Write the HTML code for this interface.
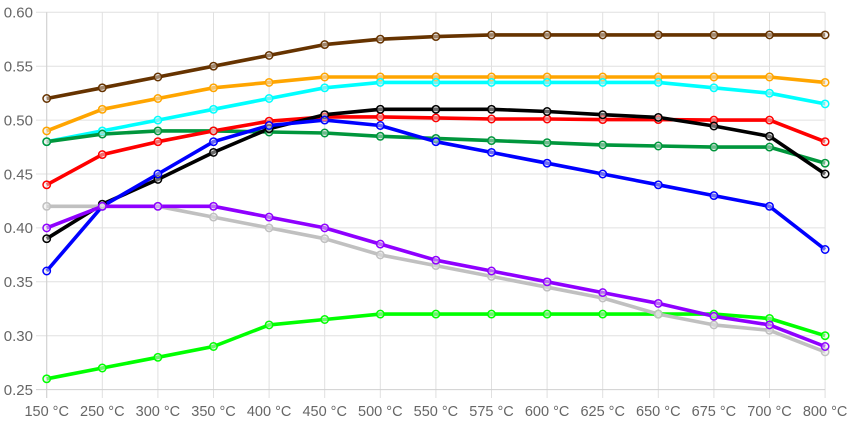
<!DOCTYPE html>
<html>
<head>
<meta charset="utf-8">
<style>
html,body{margin:0;padding:0;background:#fff;}
svg{display:block;}
text{font-family:"Liberation Sans",sans-serif;font-size:14.5px;fill:#666;}
.yl text{font-size:15px;}
</style>
</head>
<body>
<svg width="852" height="425" viewBox="0 0 852 425" xmlns="http://www.w3.org/2000/svg">
<!-- horizontal grid -->
<g stroke="#e0e0e0" stroke-width="1">
<line x1="36" y1="12.3" x2="825.1" y2="12.3"/>
<line x1="36" y1="66.2" x2="825.1" y2="66.2"/>
<line x1="36" y1="120.1" x2="825.1" y2="120.1"/>
<line x1="36" y1="174.0" x2="825.1" y2="174.0"/>
<line x1="36" y1="227.9" x2="825.1" y2="227.9"/>
<line x1="36" y1="281.8" x2="825.1" y2="281.8"/>
<line x1="36" y1="335.7" x2="825.1" y2="335.7"/>
</g>
<!-- vertical grid -->
<g stroke="#e0e0e0" stroke-width="1">
<line x1="46.7" y1="12.3" x2="46.7" y2="398"/>
<line x1="102.3" y1="12.3" x2="102.3" y2="398"/>
<line x1="157.9" y1="12.3" x2="157.9" y2="398"/>
<line x1="213.5" y1="12.3" x2="213.5" y2="398"/>
<line x1="269.1" y1="12.3" x2="269.1" y2="398"/>
<line x1="324.7" y1="12.3" x2="324.7" y2="398"/>
<line x1="380.3" y1="12.3" x2="380.3" y2="398"/>
<line x1="435.9" y1="12.3" x2="435.9" y2="398"/>
<line x1="491.5" y1="12.3" x2="491.5" y2="398"/>
<line x1="547.1" y1="12.3" x2="547.1" y2="398"/>
<line x1="602.7" y1="12.3" x2="602.7" y2="398"/>
<line x1="658.3" y1="12.3" x2="658.3" y2="398"/>
<line x1="713.9" y1="12.3" x2="713.9" y2="398"/>
<line x1="769.5" y1="12.3" x2="769.5" y2="398"/>
<line x1="825.1" y1="12.3" x2="825.1" y2="398"/>
</g>
<line x1="36" y1="389.6" x2="825.1" y2="389.6" stroke="#d0d0d0" stroke-width="1"/>
<line x1="46.7" y1="12.3" x2="46.7" y2="398" stroke="#d0d0d0" stroke-width="1"/>

<!-- y labels -->
<g text-anchor="end" class="yl">
<text x="33" y="17.6">0.60</text>
<text x="33" y="71.5">0.55</text>
<text x="33" y="125.4">0.50</text>
<text x="33" y="179.3">0.45</text>
<text x="33" y="233.2">0.40</text>
<text x="33" y="287.1">0.35</text>
<text x="33" y="341.0">0.30</text>
<text x="33" y="394.9">0.25</text>
</g>
<!-- x labels -->
<g text-anchor="middle">
<text x="46.7" y="416">150 °C</text>
<text x="102.3" y="416">250 °C</text>
<text x="157.9" y="416">300 °C</text>
<text x="213.5" y="416">350 °C</text>
<text x="269.1" y="416">400 °C</text>
<text x="324.7" y="416">450 °C</text>
<text x="380.3" y="416">500 °C</text>
<text x="435.9" y="416">550 °C</text>
<text x="491.5" y="416">575 °C</text>
<text x="547.1" y="416">600 °C</text>
<text x="602.7" y="416">625 °C</text>
<text x="658.3" y="416">650 °C</text>
<text x="713.9" y="416">675 °C</text>
<text x="769.5" y="416">700 °C</text>
<text x="825.1" y="416">800 °C</text>
</g>

<g fill="none" stroke-width="3.6" stroke-linejoin="round">
<polyline stroke="#663300" points="46.7,98.5 102.3,87.8 157.9,77.0 213.5,66.2 269.1,55.4 324.7,44.6 380.3,39.2 435.9,36.6 491.5,34.9 547.1,34.9 602.7,34.9 658.3,34.9 713.9,34.9 769.5,34.9 825.1,34.9"/>
<polyline stroke="#ffa500" points="46.7,130.9 102.3,109.3 157.9,98.5 213.5,87.8 269.1,82.4 324.7,77.0 380.3,77.0 435.9,77.0 491.5,77.0 547.1,77.0 602.7,77.0 658.3,77.0 713.9,77.0 769.5,77.0 825.1,82.4"/>
<polyline stroke="#00ffff" points="46.7,141.7 102.3,130.9 157.9,120.1 213.5,109.3 269.1,98.5 324.7,87.8 380.3,82.4 435.9,82.4 491.5,82.4 547.1,82.4 602.7,82.4 658.3,82.4 713.9,87.8 769.5,93.2 825.1,103.9"/>
<polyline stroke="#00963c" points="46.7,141.7 102.3,134.1 157.9,130.9 213.5,130.9 269.1,132.0 324.7,133.0 380.3,136.3 435.9,138.4 491.5,140.6 547.1,142.7 602.7,144.9 658.3,146.0 713.9,147.1 769.5,147.1 825.1,163.2"/>
<polyline stroke="#ff0000" points="46.7,184.8 102.3,154.6 157.9,141.7 213.5,130.9 269.1,121.2 324.7,116.9 380.3,116.9 435.9,117.9 491.5,119.0 547.1,119.0 602.7,119.6 658.3,119.6 713.9,120.1 769.5,120.1 825.1,141.7"/>
<polyline stroke="#000000" points="46.7,238.7 102.3,204.2 157.9,179.4 213.5,152.4 269.1,128.7 324.7,114.7 380.3,109.3 435.9,109.3 491.5,109.3 547.1,111.5 602.7,114.7 658.3,117.4 713.9,126.0 769.5,136.3 825.1,174.0"/>
<polyline stroke="#0000ff" points="46.7,271.0 102.3,206.3 157.9,174.0 213.5,141.7 269.1,125.5 324.7,120.1 380.3,125.5 435.9,141.7 491.5,152.4 547.1,163.2 602.7,174.0 658.3,184.8 713.9,195.6 769.5,206.3 825.1,249.5"/>
<polyline stroke="#00ff00" points="46.7,378.8 102.3,368.0 157.9,357.3 213.5,346.5 269.1,324.9 324.7,319.5 380.3,314.1 435.9,314.1 491.5,314.1 547.1,314.1 602.7,314.1 658.3,314.1 713.9,314.1 769.5,318.5 825.1,335.7"/>
<polyline stroke="#c0c0c0" points="46.7,206.3 102.3,206.3 157.9,206.3 213.5,217.1 269.1,227.9 324.7,238.7 380.3,254.9 435.9,265.6 491.5,276.4 547.1,287.2 602.7,298.0 658.3,314.1 713.9,324.9 769.5,330.3 825.1,351.9"/>
<polyline stroke="#8f00ff" points="46.7,227.9 102.3,206.3 157.9,206.3 213.5,206.3 269.1,217.1 324.7,227.9 380.3,244.1 435.9,260.2 491.5,271.0 547.1,281.8 602.7,292.6 658.3,303.4 713.9,316.3 769.5,324.9 825.1,346.5"/>
</g>

<g fill="rgba(235,235,235,0.45)" stroke-width="1.5">
<g stroke="#663300">
<circle cx="46.7" cy="98.5" r="3.7"/><circle cx="102.3" cy="87.8" r="3.7"/><circle cx="157.9" cy="77.0" r="3.7"/><circle cx="213.5" cy="66.2" r="3.7"/><circle cx="269.1" cy="55.4" r="3.7"/><circle cx="324.7" cy="44.6" r="3.7"/><circle cx="380.3" cy="39.2" r="3.7"/><circle cx="435.9" cy="36.6" r="3.7"/><circle cx="491.5" cy="34.9" r="3.7"/><circle cx="547.1" cy="34.9" r="3.7"/><circle cx="602.7" cy="34.9" r="3.7"/><circle cx="658.3" cy="34.9" r="3.7"/><circle cx="713.9" cy="34.9" r="3.7"/><circle cx="769.5" cy="34.9" r="3.7"/><circle cx="825.1" cy="34.9" r="3.7"/>
</g>
<g stroke="#ffa500">
<circle cx="46.7" cy="130.9" r="3.7"/><circle cx="102.3" cy="109.3" r="3.7"/><circle cx="157.9" cy="98.5" r="3.7"/><circle cx="213.5" cy="87.8" r="3.7"/><circle cx="269.1" cy="82.4" r="3.7"/><circle cx="324.7" cy="77.0" r="3.7"/><circle cx="380.3" cy="77.0" r="3.7"/><circle cx="435.9" cy="77.0" r="3.7"/><circle cx="491.5" cy="77.0" r="3.7"/><circle cx="547.1" cy="77.0" r="3.7"/><circle cx="602.7" cy="77.0" r="3.7"/><circle cx="658.3" cy="77.0" r="3.7"/><circle cx="713.9" cy="77.0" r="3.7"/><circle cx="769.5" cy="77.0" r="3.7"/><circle cx="825.1" cy="82.4" r="3.7"/>
</g>
<g stroke="#00ffff">
<circle cx="46.7" cy="141.7" r="3.7"/><circle cx="102.3" cy="130.9" r="3.7"/><circle cx="157.9" cy="120.1" r="3.7"/><circle cx="213.5" cy="109.3" r="3.7"/><circle cx="269.1" cy="98.5" r="3.7"/><circle cx="324.7" cy="87.8" r="3.7"/><circle cx="380.3" cy="82.4" r="3.7"/><circle cx="435.9" cy="82.4" r="3.7"/><circle cx="491.5" cy="82.4" r="3.7"/><circle cx="547.1" cy="82.4" r="3.7"/><circle cx="602.7" cy="82.4" r="3.7"/><circle cx="658.3" cy="82.4" r="3.7"/><circle cx="713.9" cy="87.8" r="3.7"/><circle cx="769.5" cy="93.2" r="3.7"/><circle cx="825.1" cy="103.9" r="3.7"/>
</g>
<g stroke="#00963c">
<circle cx="46.7" cy="141.7" r="3.7"/><circle cx="102.3" cy="134.1" r="3.7"/><circle cx="157.9" cy="130.9" r="3.7"/><circle cx="213.5" cy="130.9" r="3.7"/><circle cx="269.1" cy="132.0" r="3.7"/><circle cx="324.7" cy="133.0" r="3.7"/><circle cx="380.3" cy="136.3" r="3.7"/><circle cx="435.9" cy="138.4" r="3.7"/><circle cx="491.5" cy="140.6" r="3.7"/><circle cx="547.1" cy="142.7" r="3.7"/><circle cx="602.7" cy="144.9" r="3.7"/><circle cx="658.3" cy="146.0" r="3.7"/><circle cx="713.9" cy="147.1" r="3.7"/><circle cx="769.5" cy="147.1" r="3.7"/><circle cx="825.1" cy="163.2" r="3.7"/>
</g>
<g stroke="#ff0000">
<circle cx="46.7" cy="184.8" r="3.7"/><circle cx="102.3" cy="154.6" r="3.7"/><circle cx="157.9" cy="141.7" r="3.7"/><circle cx="213.5" cy="130.9" r="3.7"/><circle cx="269.1" cy="121.2" r="3.7"/><circle cx="324.7" cy="116.9" r="3.7"/><circle cx="380.3" cy="116.9" r="3.7"/><circle cx="435.9" cy="117.9" r="3.7"/><circle cx="491.5" cy="119.0" r="3.7"/><circle cx="547.1" cy="119.0" r="3.7"/><circle cx="602.7" cy="119.6" r="3.7"/><circle cx="658.3" cy="119.6" r="3.7"/><circle cx="713.9" cy="120.1" r="3.7"/><circle cx="769.5" cy="120.1" r="3.7"/><circle cx="825.1" cy="141.7" r="3.7"/>
</g>
<g stroke="#000000">
<circle cx="46.7" cy="238.7" r="3.7"/><circle cx="102.3" cy="204.2" r="3.7"/><circle cx="157.9" cy="179.4" r="3.7"/><circle cx="213.5" cy="152.4" r="3.7"/><circle cx="269.1" cy="128.7" r="3.7"/><circle cx="324.7" cy="114.7" r="3.7"/><circle cx="380.3" cy="109.3" r="3.7"/><circle cx="435.9" cy="109.3" r="3.7"/><circle cx="491.5" cy="109.3" r="3.7"/><circle cx="547.1" cy="111.5" r="3.7"/><circle cx="602.7" cy="114.7" r="3.7"/><circle cx="658.3" cy="117.4" r="3.7"/><circle cx="713.9" cy="126.0" r="3.7"/><circle cx="769.5" cy="136.3" r="3.7"/><circle cx="825.1" cy="174.0" r="3.7"/>
</g>
<g stroke="#0000ff">
<circle cx="46.7" cy="271.0" r="3.7"/><circle cx="102.3" cy="206.3" r="3.7"/><circle cx="157.9" cy="174.0" r="3.7"/><circle cx="213.5" cy="141.7" r="3.7"/><circle cx="269.1" cy="125.5" r="3.7"/><circle cx="324.7" cy="120.1" r="3.7"/><circle cx="380.3" cy="125.5" r="3.7"/><circle cx="435.9" cy="141.7" r="3.7"/><circle cx="491.5" cy="152.4" r="3.7"/><circle cx="547.1" cy="163.2" r="3.7"/><circle cx="602.7" cy="174.0" r="3.7"/><circle cx="658.3" cy="184.8" r="3.7"/><circle cx="713.9" cy="195.6" r="3.7"/><circle cx="769.5" cy="206.3" r="3.7"/><circle cx="825.1" cy="249.5" r="3.7"/>
</g>
<g stroke="#00ff00">
<circle cx="46.7" cy="378.8" r="3.7"/><circle cx="102.3" cy="368.0" r="3.7"/><circle cx="157.9" cy="357.3" r="3.7"/><circle cx="213.5" cy="346.5" r="3.7"/><circle cx="269.1" cy="324.9" r="3.7"/><circle cx="324.7" cy="319.5" r="3.7"/><circle cx="380.3" cy="314.1" r="3.7"/><circle cx="435.9" cy="314.1" r="3.7"/><circle cx="491.5" cy="314.1" r="3.7"/><circle cx="547.1" cy="314.1" r="3.7"/><circle cx="602.7" cy="314.1" r="3.7"/><circle cx="658.3" cy="314.1" r="3.7"/><circle cx="713.9" cy="314.1" r="3.7"/><circle cx="769.5" cy="318.5" r="3.7"/><circle cx="825.1" cy="335.7" r="3.7"/>
</g>
<g stroke="#c0c0c0">
<circle cx="46.7" cy="206.3" r="3.7"/><circle cx="102.3" cy="206.3" r="3.7"/><circle cx="157.9" cy="206.3" r="3.7"/><circle cx="213.5" cy="217.1" r="3.7"/><circle cx="269.1" cy="227.9" r="3.7"/><circle cx="324.7" cy="238.7" r="3.7"/><circle cx="380.3" cy="254.9" r="3.7"/><circle cx="435.9" cy="265.6" r="3.7"/><circle cx="491.5" cy="276.4" r="3.7"/><circle cx="547.1" cy="287.2" r="3.7"/><circle cx="602.7" cy="298.0" r="3.7"/><circle cx="658.3" cy="314.1" r="3.7"/><circle cx="713.9" cy="324.9" r="3.7"/><circle cx="769.5" cy="330.3" r="3.7"/><circle cx="825.1" cy="351.9" r="3.7"/>
</g>
<g stroke="#8f00ff">
<circle cx="46.7" cy="227.9" r="3.7"/><circle cx="102.3" cy="206.3" r="3.7"/><circle cx="157.9" cy="206.3" r="3.7"/><circle cx="213.5" cy="206.3" r="3.7"/><circle cx="269.1" cy="217.1" r="3.7"/><circle cx="324.7" cy="227.9" r="3.7"/><circle cx="380.3" cy="244.1" r="3.7"/><circle cx="435.9" cy="260.2" r="3.7"/><circle cx="491.5" cy="271.0" r="3.7"/><circle cx="547.1" cy="281.8" r="3.7"/><circle cx="602.7" cy="292.6" r="3.7"/><circle cx="658.3" cy="303.4" r="3.7"/><circle cx="713.9" cy="316.3" r="3.7"/><circle cx="769.5" cy="324.9" r="3.7"/><circle cx="825.1" cy="346.5" r="3.7"/>
</g>
</g>
</svg>
</body>
</html>
